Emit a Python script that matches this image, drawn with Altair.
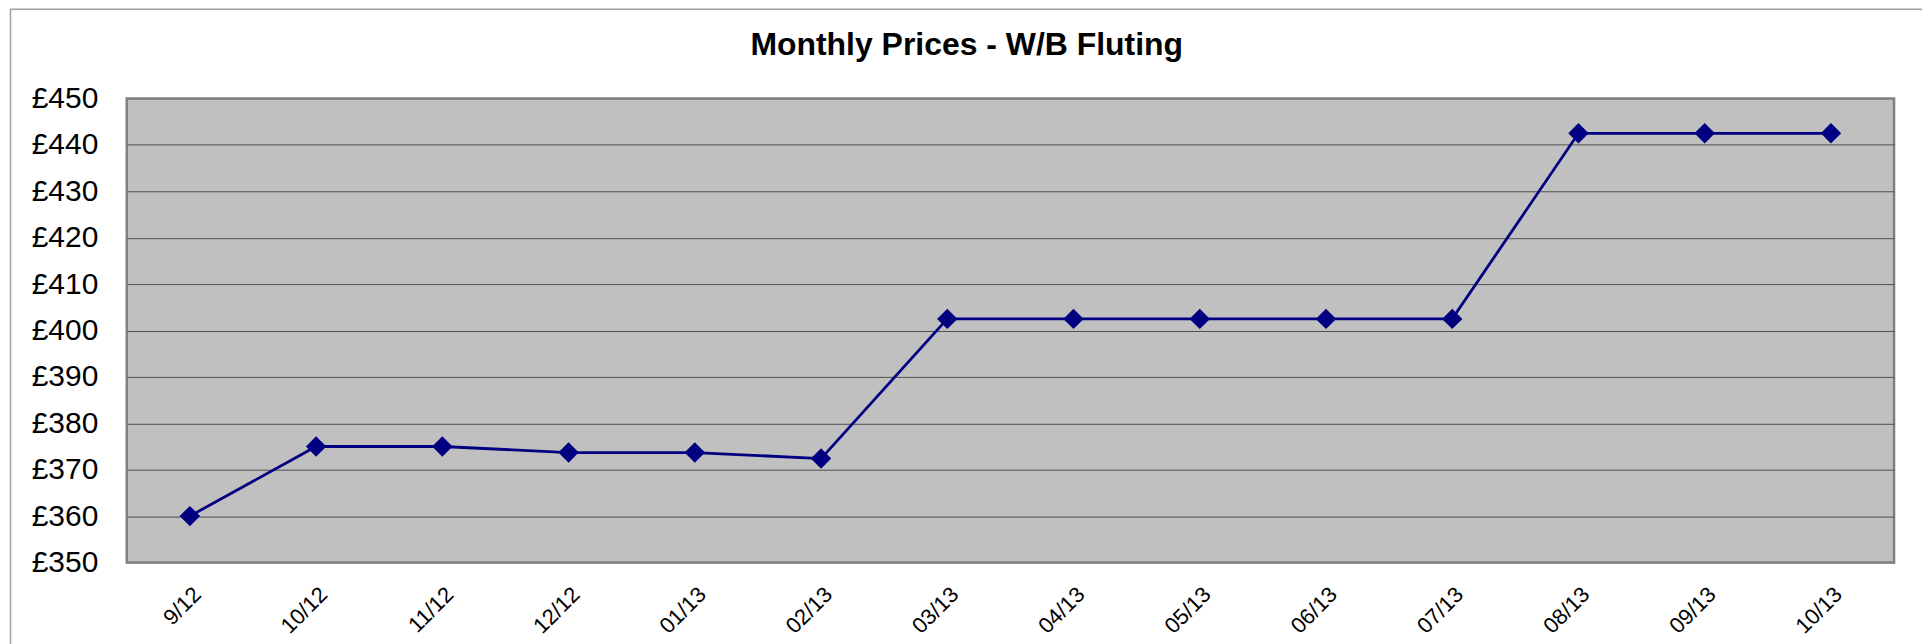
import altair as alt
import pandas as pd

# ---- data ----
months = ["9/12", "10/12", "11/12", "12/12", "01/13", "02/13", "03/13",
          "04/13", "05/13", "06/13", "07/13", "08/13", "09/13", "10/13"]
prices = [360.0, 375.0, 375.0, 373.7, 373.7, 372.4, 402.5,
          402.5, 402.5, 402.5, 402.5, 442.5, 442.5, 442.5]
y_ticks = [350, 360, 370, 380, 390, 400, 410, 420, 430, 440, 450]
title_text = "Monthly Prices - W/B Fluting"

df = pd.DataFrame({"month": months, "price": prices})
frame_df = pd.DataFrame({"k": [0]})

W, H = 1771, 465
FONT = "Liberation Sans"
NAVY = "#000080"

x_enc = alt.X(
    "month:N",
    sort=months,
    scale=alt.Scale(type="point", padding=0.5),
    axis=alt.Axis(
        title=None, labelAngle=-45, labelFontSize=22, labelFont=FONT,
        labelColor="black", ticks=False, domain=False, grid=False,
        labelPadding=21,
    ),
)
y_enc = alt.Y(
    "price:Q",
    scale=alt.Scale(domain=[350, 450], nice=False, zero=False),
    axis=alt.Axis(
        title=None, values=y_ticks, labelExpr="'£' + datum.value",
        labelFontSize=30, labelFont=FONT, labelColor="black",
        ticks=False, domain=False, grid=True,
        gridColor={"condition": {"test": "datum.value == 350 || datum.value == 450",
                                 "value": "#808080"},
                   "value": "#505050"},
        gridWidth=1, labelPadding=29,
    ),
)

frame = alt.Chart(frame_df).mark_rect(
    fillOpacity=0, stroke="#a0a0a0", strokeWidth=1.5
).encode(
    x=alt.value(-116.5), x2=alt.value(W + 29),
    y=alt.value(-89.5), y2=alt.value(H + 120),
)

line = alt.Chart(df).mark_line(color=NAVY, strokeWidth=2.8).encode(x=x_enc, y=y_enc)
pts = alt.Chart(df).mark_point(
    shape="diamond", filled=True, size=420, color=NAVY, opacity=1
).encode(x=x_enc, y=y_enc)

chart = (
    alt.layer(frame, line, pts)
    .properties(
        width=W, height=H,
        title=alt.TitleParams(
            text=title_text, font=FONT, fontSize=32, fontWeight="bold",
            color="black", anchor="middle", frame="bounds", offset=-54,
        ),
        autosize=alt.AutoSizeParams(type="none"),
        padding={"left": 119, "top": 90, "right": 28, "bottom": 81},
        background="white",
    )
    .configure_view(fill="#C0C0C0", stroke="#808080", strokeWidth=2.5)
)

chart.save("out.html", embed_options={"renderer": "svg", "actions": False})
